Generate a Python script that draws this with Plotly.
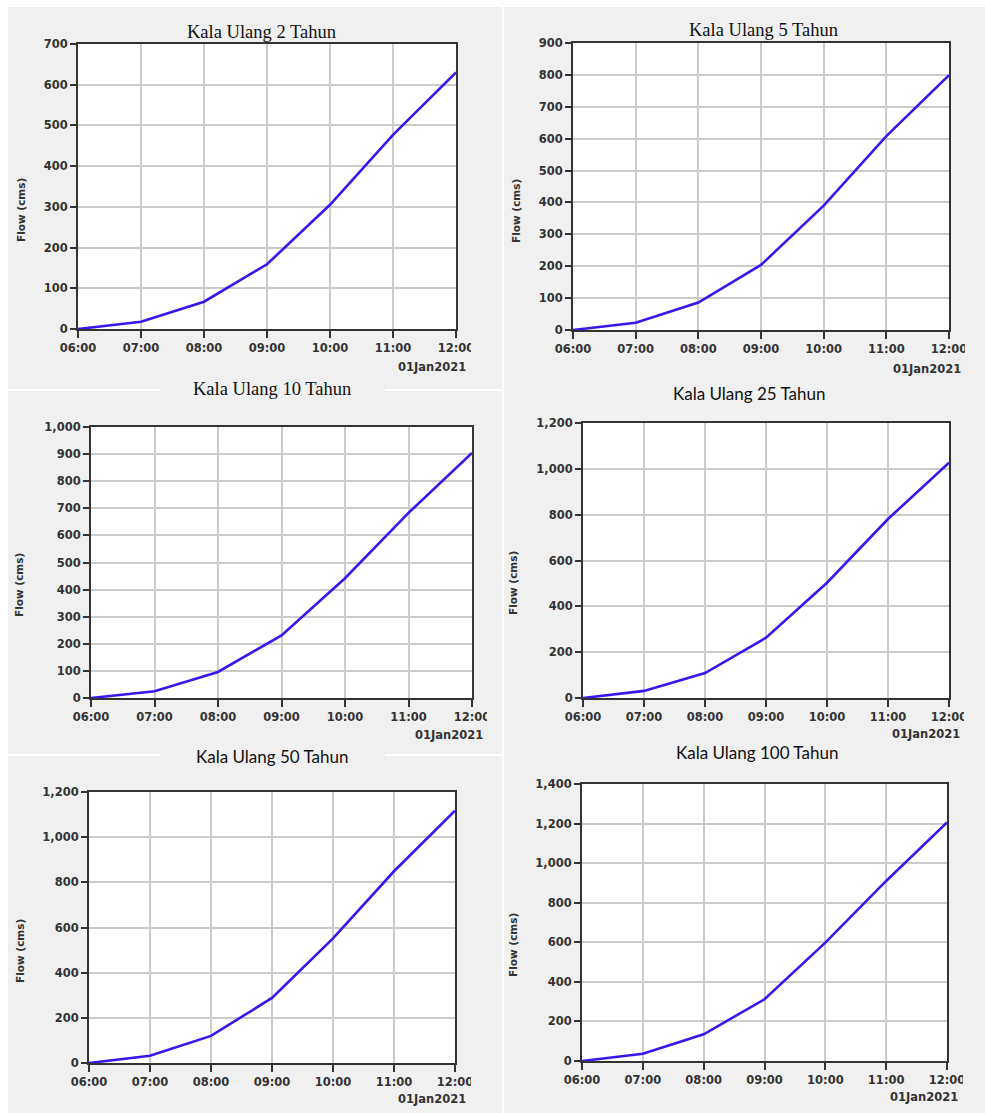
import plotly.graph_objects as go

# Hourly outflow hydrographs (HEC-HMS style) for each return period
times = ["2021-01-01 06:00", "2021-01-01 07:00", "2021-01-01 08:00",
         "2021-01-01 09:00", "2021-01-01 10:00", "2021-01-01 11:00",
         "2021-01-01 12:00"]

flow_2 = [0, 18, 67, 159, 305, 477, 630]
flow_5 = [0, 23, 86, 204, 390, 608, 799]
flow_10 = [0, 25, 96, 231, 442, 683, 904]
flow_25 = [0, 31, 109, 263, 503, 781, 1027]
flow_50 = [0, 32, 120, 288, 552, 849, 1117]
flow_100 = [0, 37, 135, 312, 598, 910, 1206]

titles = ["Kala Ulang 2 Tahun", "Kala Ulang 5 Tahun", "Kala Ulang 10 Tahun",
          "Kala Ulang 25 Tahun", "Kala Ulang 50 Tahun", "Kala Ulang 100 Tahun"]
series = [flow_2, flow_5, flow_10, flow_25, flow_50, flow_100]
y_max = [700, 900, 1000, 1200, 1200, 1400]
y_step = [100, 100, 100, 200, 200, 200]
date_label = "01Jan2021"
y_title = "Flow (cms)"

W, H = 985, 1113
BG = "#f0f0f0"
LINE = "#3c14f0"
INK = "#333333"
TICK_FONT = dict(family="DejaVu Sans", size=11.5, color=INK, weight="bold")
YTITLE_FONT = dict(family="DejaVu Sans", size=10.5, color=INK, weight="bold")


def px(x):
    return x / W


def py(y):
    return 1 - y / H


# Plot-area boxes in pixels: left, right, top, bottom
boxes = [
    (78, 456, 44, 329),
    (573, 949, 43, 330),
    (91, 472, 427, 698),
    (583, 949, 423, 698),
    (89, 455, 792, 1063),
    (582, 947, 784, 1061),
]
# Title centres, title font family
title_pos = [(261, 32), (763, 30), (272, 389), (749, 393), (272, 756), (757, 752)]
title_font = ["Liberation Serif"] * 3 + ["Lato"] * 3
title_size = [18.5] * 3 + [17] * 3
# Vertical axis caption centres
ytitle_pos = [(21, 210), (516, 211), (19, 585), (513, 583), (20, 951), (513, 945)]
# Date caption anchor (right edge, centre y)
date_pos = [(468, 367), (963, 369), (485, 735), (962, 734), (468, 1099), (960, 1097)]
# Right edge of each panel where the last time label is cut off
clip_x = [471, 965, 487, 964, 471, 963]

fig = go.Figure()
shapes = []
annotations = []

for i in range(6):
    n = "" if i == 0 else str(i + 1)
    l, r, t, b = boxes[i]
    fig.add_trace(go.Scatter(
        x=times, y=series[i], mode="lines",
        line=dict(color=LINE, width=2.6),
        xaxis="x" + n, yaxis="y" + n, showlegend=False,
        hoverinfo="x+y",
    ))
    fig.update_layout(**{
        "xaxis" + n: dict(
            domain=[px(l), px(r)], anchor="y" + n, type="date", automargin=False,
            range=[times[0], times[-1]], dtick=3600000, tick0=times[0],
            tickformat="%H:%M", showgrid=True, gridcolor="#cbcbcb", gridwidth=1.5,
            showline=True, linecolor="#333333", linewidth=2, mirror=True,
            ticks="outside", ticklen=7, tickwidth=1.5, tickcolor="#333333",
            tickfont=TICK_FONT, zeroline=False, fixedrange=True,
        ),
        "yaxis" + n: dict(
            domain=[py(b), py(t)], anchor="x" + n, automargin=False,
            range=[0, y_max[i]], dtick=y_step[i], tickformat=",",
            showgrid=True, gridcolor="#cbcbcb", gridwidth=1.5,
            showline=True, linecolor="#333333", linewidth=2, mirror=True,
            ticks="outside", ticklen=6, tickwidth=1.5, tickcolor="#333333",
            tickfont=TICK_FONT, zeroline=False, fixedrange=True,
        ),
    })
    tx, ty = title_pos[i]
    annotations.append(dict(
        text=titles[i], x=px(tx), y=py(ty), xref="paper", yref="paper",
        xanchor="center", yanchor="middle", showarrow=False,
        font=dict(family=title_font[i], size=title_size[i], color="#111111"),
    ))
    yx, yy = ytitle_pos[i]
    annotations.append(dict(
        text=y_title, x=px(yx), y=py(yy), xref="paper", yref="paper",
        xanchor="center", yanchor="middle", showarrow=False, textangle=-90,
        font=YTITLE_FONT,
    ))
    dx, dy = date_pos[i]
    annotations.append(dict(
        text=date_label, x=px(dx), y=py(dy), xref="paper", yref="paper",
        xanchor="right", yanchor="middle", showarrow=False, font=TICK_FONT,
    ))
    # panel edge cutting the final time label
    shapes.append(dict(
        type="rect", xref="paper", yref="paper", layer="above",
        x0=px(clip_x[i]), x1=px(clip_x[i] + 14), y0=py(b + 28), y1=py(b + 9),
        fillcolor=BG, line=dict(width=0),
    ))

# white page margins and seams between the pasted panels
seams = [
    (0, W, 0, 7),
    (0, 8, 0, H),
    (502, 504, 0, H),
    (8, 160, 389, 391),
    (385, 502, 389, 391),
    (8, 160, 754, 756),
    (385, 502, 754, 756),
]
for x0, x1, y0, y1 in seams:
    shapes.append(dict(
        type="rect", xref="paper", yref="paper", layer="below",
        x0=px(x0), x1=px(x1), y0=py(y1), y1=py(y0),
        fillcolor="#ffffff", line=dict(width=0),
    ))

fig.update_layout(
    template="none",
    width=W, height=H, margin=dict(l=0, r=0, t=0, b=0, pad=0),
    paper_bgcolor=BG, plot_bgcolor="#ffffff",
    shapes=shapes, annotations=annotations, showlegend=False,
)

fig.write_html("out.html")
